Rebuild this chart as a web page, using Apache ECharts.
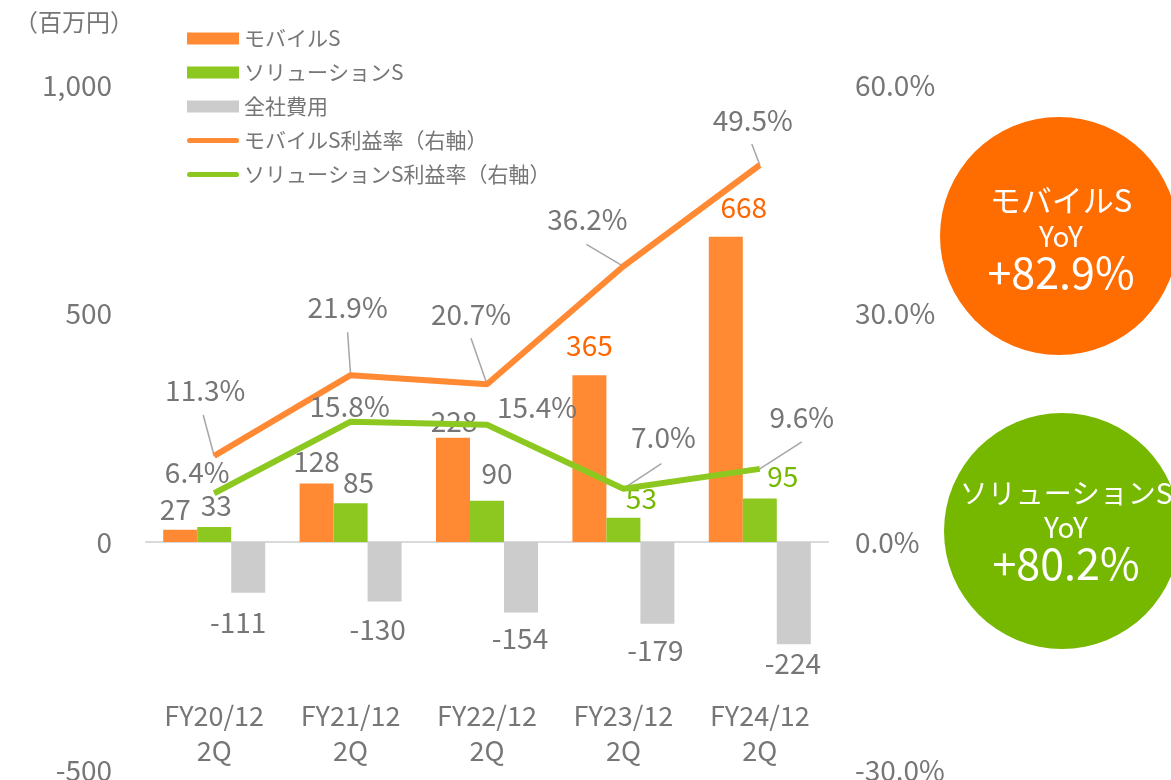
<!DOCTYPE html>
<html>
<head>
<meta charset="utf-8">
<script src="https://cdn.jsdelivr.net/npm/echarts@6/dist/echarts.min.js"></script>
<style>
  html, body { margin: 0; padding: 0; background: #fff; }
  #chart { width: 1171px; height: 780px; }
</style>
</head>
<body>
<div id="chart"></div>
<script>
// ---- data ----
const categories = ['FY20/12\n2Q', 'FY21/12\n2Q', 'FY22/12\n2Q', 'FY23/12\n2Q', 'FY24/12\n2Q'];
const mobileProfit = [27, 128, 228, 365, 668];
const solutionProfit = [33, 85, 90, 53, 95];
const corporateCost = [-111, -130, -154, -179, -224];
const mobileMargin = [11.3, 21.9, 20.7, 36.2, 49.5];
const solutionMargin = [6.4, 15.8, 15.4, 7.0, 9.6];
const leftTicks = { min: -500, max: 1000, interval: 500 };
const rightTicks = { min: -30, max: 60, interval: 30 };
const seriesNames = ['モバイルS', 'ソリューションS', '全社費用', 'モバイルS利益率（右軸）', 'ソリューションS利益率（右軸）'];
const unitLabel = '（百万円）';
const mobileYoY = '+82.9%';
const solutionYoY = '+80.2%';

// ---- label placement (pixel offsets, styling only) ----
const mobileBarLabelOffset = [[-5, -1], [0, -3], [1, 3], [0, -11], [18, -10]];
const solutionBarLabelOffset = [[2, -3], [8, -2], [10, -9], [18, 0], [23, -3]];
const costBarLabelOffset = [[-10, 11], [-7, 9], [-1, 7], [-2, 8], [-1, 0]];
const mobileLineLabelOffset = [[-9, -66], [-3, -68], [-16, -70], [-36, -47], [-7, -45]];
const solutionLineLabelOffset = [[-17, -21], [-1, -15], [50, -17], [40, -51], [42, -52]];
const mobileLeader = [[-11, -41], [-3, -43], [-16, -46], [-37, -22], [-8, -21]];
const solutionLeader = [null, null, null, [38, -25], [42, -27]];
const mobileLabelColor = ['#767676', '#767676', '#767676', '#FF6600', '#FF6600'];
const solutionLabelColor = ['#767676', '#767676', '#767676', '#76B800', '#76B800'];

const FONT = '"Noto Sans CJK JP", "Noto Sans", sans-serif';
const GRAY = '#767676';
const ORANGE = '#FF8A33';
const GREEN = '#8CC820';
const COSTGRAY = '#CCCCCC';

function barData(values, offsets, colors, pos) {
  return values.map((v, i) => ({
    value: v,
    label: { offset: offsets[i], color: colors ? colors[i] : GRAY, position: pos }
  }));
}
function lineData(values, offsets) {
  return values.map((v, i) => ({ value: v, label: { offset: offsets[i] } }));
}
function leaderSeries(values, leaders, z) {
  return {
    type: 'custom',
    yAxisIndex: 1,
    silent: true,
    z: z,
    data: values.map((v, i) => [i, v]),
    renderItem: function (params, api) {
      const lead = leaders[params.dataIndex];
      if (!lead) return null;
      const p = api.coord([api.value(0), api.value(1)]);
      return {
        type: 'line',
        shape: { x1: p[0] + lead[0], y1: p[1] + lead[1], x2: p[0], y2: p[1] },
        style: { stroke: '#A6A6A6', lineWidth: 1.5 }
      };
    }
  };
}

const linePath = 'path://M0,0L0,0M52,12L52,12M2.5,3.5L49.5,3.5A2.5,2.5,0,0,1,49.5,8.5L2.5,8.5A2.5,2.5,0,0,1,2.5,3.5Z';

const chart = echarts.init(document.getElementById('chart'), null, { renderer: 'canvas' });
const option = {
  animation: false,
  backgroundColor: '#fff',
  textStyle: { fontFamily: FONT },
  grid: { left: 146, right: 343, top: 85, bottom: 9.5, containLabel: false, outerBoundsMode: 'none' },
  legend: {
    orient: 'vertical',
    left: 187,
    top: 28,
    padding: 0,
    itemWidth: 52,
    itemHeight: 12,
    itemGap: 13,
    textStyle: { fontFamily: FONT, fontSize: 21, color: GRAY, lineHeight: 21, padding: [0, 0, 0, 0] },
    data: [
      { name: seriesNames[0], icon: 'rect' },
      { name: seriesNames[1], icon: 'rect' },
      { name: seriesNames[2], icon: 'rect' },
      { name: seriesNames[3], icon: linePath },
      { name: seriesNames[4], icon: linePath }
    ]
  },
  xAxis: {
    type: 'category',
    data: categories,
    axisTick: { show: false },
    axisLine: { show: true, onZero: true, lineStyle: { color: '#D9D9D9', width: 2 } },
    axisLabel: { fontFamily: FONT, fontSize: 27, color: GRAY, lineHeight: 35, margin: -72 }
  },
  yAxis: [
    {
      type: 'value',
      min: leftTicks.min, max: leftTicks.max, interval: leftTicks.interval,
      splitLine: { show: false },
      axisLine: { show: false },
      axisTick: { show: false },
      axisLabel: {
        fontFamily: FONT, fontSize: 28, color: GRAY, margin: 34,
        formatter: v => v.toLocaleString('en-US')
      }
    },
    {
      type: 'value',
      min: rightTicks.min, max: rightTicks.max, interval: rightTicks.interval,
      splitLine: { show: false },
      axisLine: { show: false },
      axisTick: { show: false },
      axisLabel: {
        fontFamily: FONT, fontSize: 28, color: GRAY, margin: 27,
        formatter: v => v.toFixed(1) + '%'
      }
    }
  ],
  series: [
    {
      name: seriesNames[0], type: 'bar', barWidth: 34, barGap: '0%',
      itemStyle: { color: ORANGE },
      label: { show: true, position: 'top', fontFamily: FONT, fontSize: 28, color: GRAY },
      data: barData(mobileProfit, mobileBarLabelOffset, mobileLabelColor, 'top')
    },
    {
      name: seriesNames[1], type: 'bar', barWidth: 34, barGap: '0%',
      itemStyle: { color: GREEN },
      label: { show: true, position: 'top', fontFamily: FONT, fontSize: 28, color: GRAY },
      data: barData(solutionProfit, solutionBarLabelOffset, solutionLabelColor, 'top')
    },
    {
      name: seriesNames[2], type: 'bar', barWidth: 34, barGap: '0%',
      itemStyle: { color: COSTGRAY },
      label: { show: true, position: 'bottom', fontFamily: FONT, fontSize: 28, color: GRAY },
      data: barData(corporateCost, costBarLabelOffset, null, 'bottom')
    },
    leaderSeries(mobileMargin, mobileLeader, 3),
    leaderSeries(solutionMargin, solutionLeader, 3),
    {
      name: seriesNames[3], type: 'line', yAxisIndex: 1, z: 5,
      symbol: 'circle', symbolSize: 1, showSymbol: true,
      lineStyle: { color: ORANGE, width: 6 },
      itemStyle: { color: ORANGE },
      label: {
        show: true, position: 'inside', fontFamily: FONT, fontSize: 28, color: GRAY,
        formatter: p => p.value.toFixed(1) + '%'
      },
      data: lineData(mobileMargin, mobileLineLabelOffset)
    },
    {
      name: seriesNames[4], type: 'line', yAxisIndex: 1, z: 5,
      symbol: 'circle', symbolSize: 1, showSymbol: true,
      lineStyle: { color: GREEN, width: 6 },
      itemStyle: { color: GREEN },
      label: {
        show: true, position: 'inside', fontFamily: FONT, fontSize: 28, color: GRAY,
        formatter: p => p.value.toFixed(1) + '%'
      },
      data: lineData(solutionMargin, solutionLineLabelOffset)
    }
  ],
  graphic: [
    {
      type: 'text', left: 14, top: 10,
      style: { text: unitLabel, fontFamily: FONT, fontSize: 24, fill: GRAY }
    },
    {
      type: 'circle', shape: { cx: 1059, cy: 236, r: 119 },
      style: { fill: '#FF6C00' }, z: 10
    },
    {
      type: 'text', x: 1061, y: 200, z: 11,
      style: { text: seriesNames[0], fontFamily: FONT, fontSize: 31, fill: '#fff', align: 'center', verticalAlign: 'middle' }
    },
    {
      type: 'text', x: 1061, y: 236, z: 11,
      style: { text: 'YoY', fontFamily: FONT, fontSize: 28, fill: '#fff', align: 'center', verticalAlign: 'middle' }
    },
    {
      type: 'text', x: 1061, y: 273, z: 11,
      style: { text: mobileYoY, fontFamily: FONT, fontSize: 43, fill: '#fff', align: 'center', verticalAlign: 'middle' }
    },
    {
      type: 'circle', shape: { cx: 1062, cy: 531, r: 118 },
      style: { fill: '#76B800' }, z: 10
    },
    {
      type: 'text', x: 1066, y: 493, z: 11,
      style: { text: seriesNames[1], fontFamily: FONT, fontSize: 28, fill: '#fff', align: 'center', verticalAlign: 'middle' }
    },
    {
      type: 'text', x: 1066, y: 527, z: 11,
      style: { text: 'YoY', fontFamily: FONT, fontSize: 28, fill: '#fff', align: 'center', verticalAlign: 'middle' }
    },
    {
      type: 'text', x: 1066, y: 564, z: 11,
      style: { text: solutionYoY, fontFamily: FONT, fontSize: 43, fill: '#fff', align: 'center', verticalAlign: 'middle' }
    }
  ]
};
chart.setOption(option);
</script>
</body>
</html>
